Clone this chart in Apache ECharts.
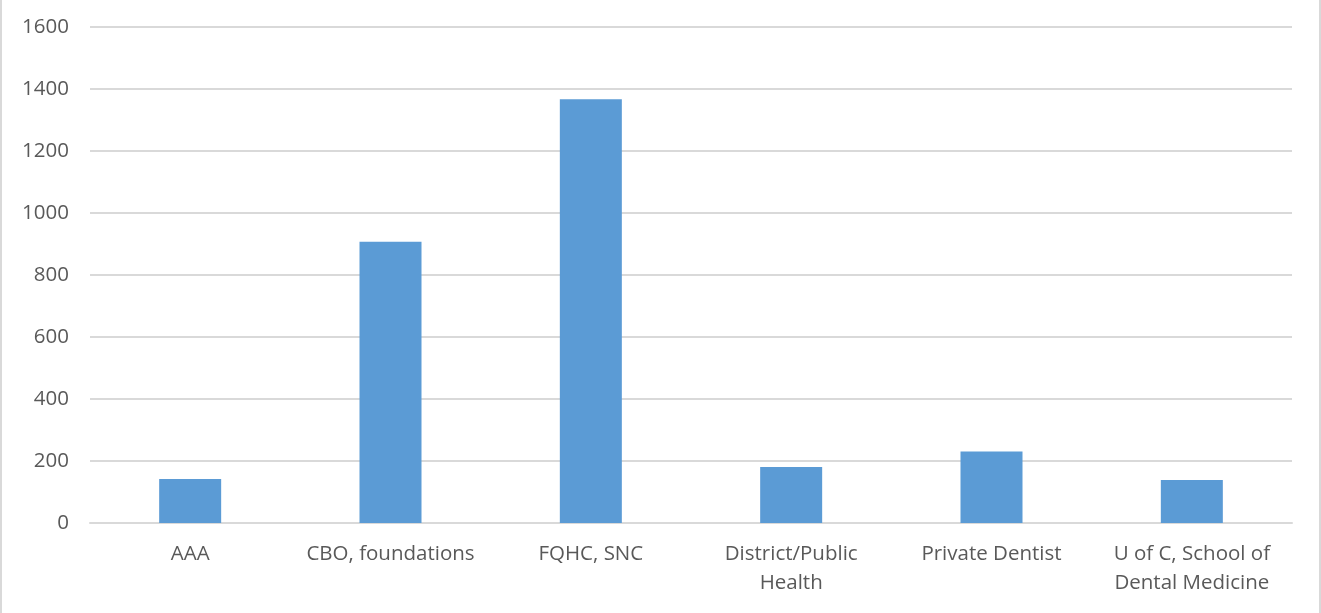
<!DOCTYPE html>
<html>
<head>
<meta charset="utf-8">
<script src="https://cdn.jsdelivr.net/npm/echarts@6/dist/echarts.min.js"></script>
<style>
  html, body { margin: 0; padding: 0; background: #fff; }
  #chart {
    width: 1321px;
    height: 613px;
    border-left: 2px solid #d9d9d9;
    border-right: 2px solid #d9d9d9;
    box-sizing: border-box;
  }
</style>
</head>
<body>
<div id="chart"></div>
<script>
const categories = [
  'AAA',
  'CBO, foundations',
  'FQHC, SNC',
  'District/Public\nHealth',
  'Private Dentist',
  'U of C, School of\nDental Medicine'
]
const values = [142, 907, 1367, 181, 231, 139]

const textColor = '#595959'
const fontFamily = 'Open Sans'

const chart = echarts.init(document.getElementById('chart'))

chart.setOption({
  animation: false,
  textStyle: { fontFamily: fontFamily, color: textColor },
  grid: {
    left: 88,
    right: 27,
    top: 27,
    bottom: 90
  },
  xAxis: {
    type: 'category',
    data: categories,
    axisLine: { lineStyle: { color: '#d9d9d9', width: 2 } },
    axisTick: { show: false },
    axisLabel: {
      color: textColor,
      fontFamily: fontFamily,
      fontSize: 20.5,
      lineHeight: 29,
      margin: 17,
      interval: 0
    }
  },
  yAxis: {
    type: 'value',
    min: 0,
    max: 1600,
    interval: 200,
    axisLine: { show: false },
    axisTick: { show: false },
    axisLabel: {
      color: textColor,
      fontFamily: fontFamily,
      fontSize: 20.5,
      margin: 21,
      formatter: v => String(v)
    },
    splitLine: { lineStyle: { color: '#d9d9d9', width: 2 } }
  },
  series: [{
    type: 'bar',
    data: values,
    barWidth: 62,
    itemStyle: { color: '#5b9bd5' }
  }]
})
</script>
</body>
</html>
